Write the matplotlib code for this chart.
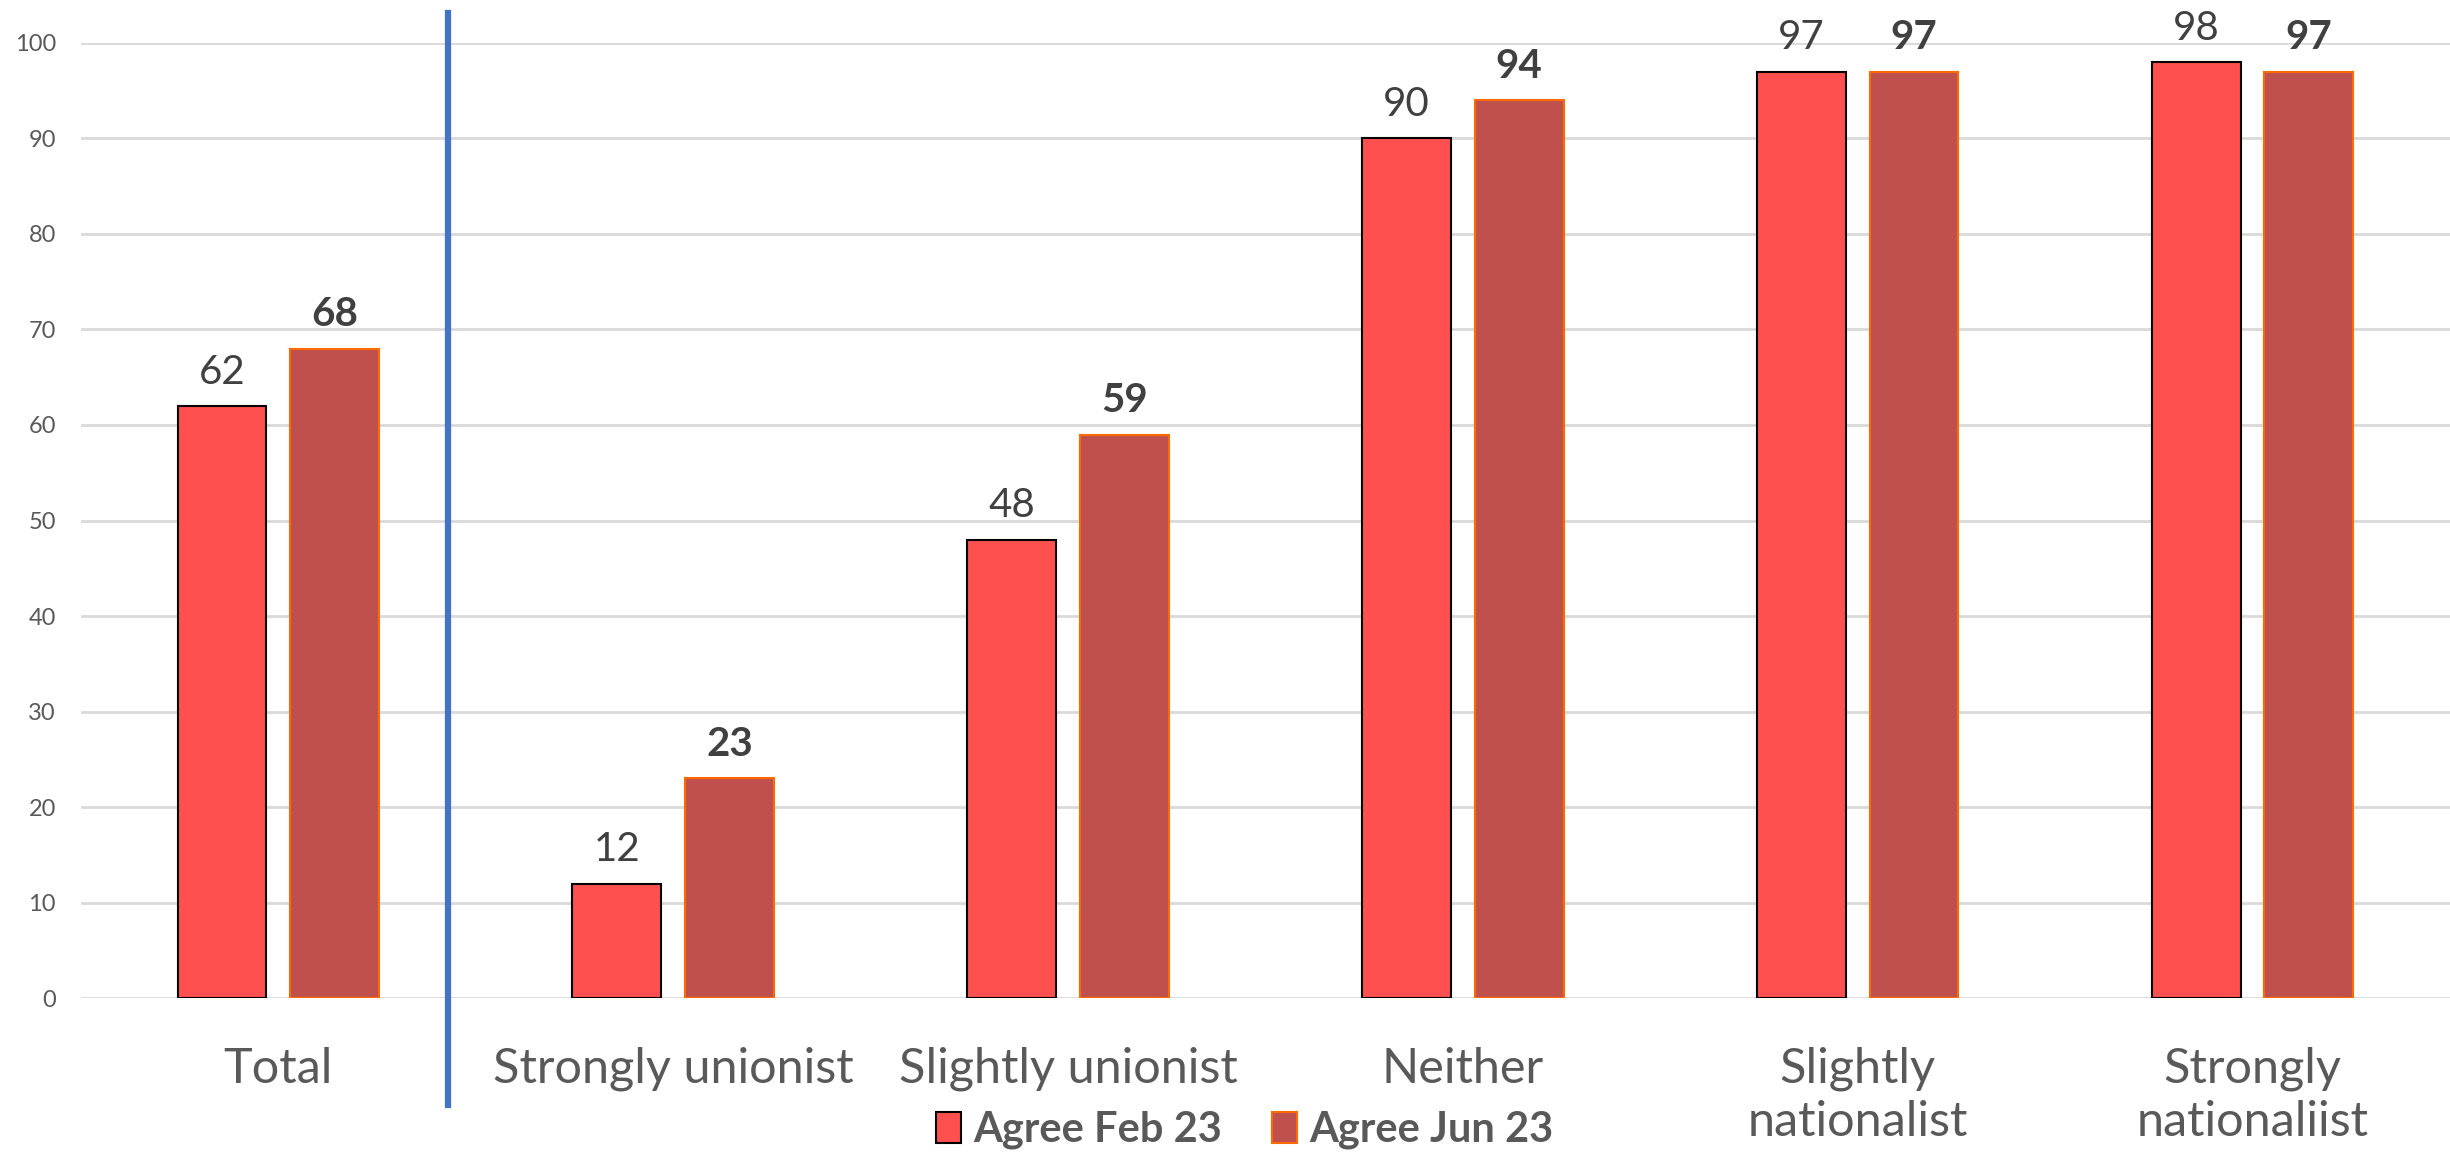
import matplotlib.pyplot as plt
import numpy as np
from matplotlib.patches import Patch

categories = ['Total', 'Strongly unionist', 'Slightly unionist', 'Neither',
              'Slightly\nnationalist', 'Strongly\nnationaliist']
agree_feb = [62, 12, 48, 90, 97, 98]
agree_jun = [68, 23, 59, 94, 97, 97]
yticks = [0, 10, 20, 30, 40, 50, 60, 70, 80, 90, 100]

plt.rcParams['font.family'] = ['Lato', 'DejaVu Sans']

feb_color = '#FF5050'
jun_color = '#C0504D'

fig = plt.figure(figsize=(24.5, 11.58), dpi=100)
ax = fig.add_axes([0.033, 0.138, 0.967, 0.825])

x = np.arange(len(categories))
w = 0.225
off = 0.1425

bars1 = ax.bar(x - off, agree_feb, width=w, color=feb_color, edgecolor='black', linewidth=1.5, zorder=3)
bars2 = ax.bar(x + off, agree_jun, width=w, color=jun_color, edgecolor='#FF6A00', linewidth=1.5, zorder=3)

for b, v in zip(bars1, agree_feb):
    ax.annotate(str(v), (b.get_x() + b.get_width() / 2, v), xytext=(0, 11), textcoords='offset points',
                ha='center', va='bottom', fontsize=29, color='#404040')
for b, v in zip(bars2, agree_jun):
    ax.annotate(str(v), (b.get_x() + b.get_width() / 2, v), xytext=(0, 11), textcoords='offset points',
                ha='center', va='bottom', fontsize=29, color='#404040', fontweight='bold')

ax.set_xlim(-0.5, len(categories) - 0.5)
ax.set_ylim(0, 100)
ax.set_yticks(yticks)
ax.set_xticks(x)
ax.set_xticklabels(categories, fontsize=35, color='#595959', linespacing=1.25)
ax.tick_params(axis='x', length=0, pad=35)
ax.tick_params(axis='y', length=0, pad=18, labelsize=17, labelcolor='#595959')
ax.grid(axis='y', color='#D9D9D9', linewidth=2, zorder=0)
for s in ax.spines.values():
    s.set_visible(False)

# divider between total and the groups
ax.plot([0.43, 0.43], [1.031, -0.112], transform=ax.get_xaxis_transform(), color='#4472C4',
        linewidth=4.5, clip_on=False, zorder=4)

handles = [Patch(facecolor=feb_color, edgecolor='black', linewidth=1.5),
           Patch(facecolor=jun_color, edgecolor='#FF6A00', linewidth=1.5)]
fig.legend(handles, ['Agree Feb 23', 'Agree Jun 23'], loc='center', bbox_to_anchor=(0.508, 0.024),
           ncol=2, frameon=False, prop={'size': 30, 'weight': 'bold'}, labelcolor='#595959',
           handlelength=0.6, handleheight=0.8, handletextpad=0.3, columnspacing=1.2)

fig.savefig('out.png', dpi=100)
